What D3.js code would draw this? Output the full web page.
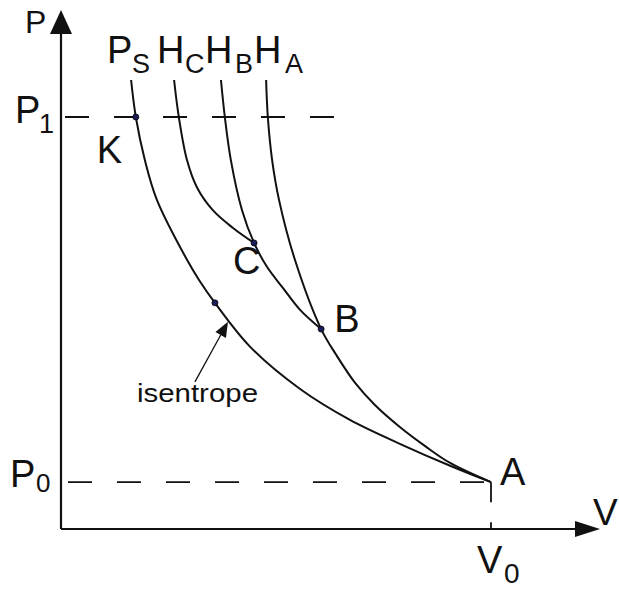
<!DOCTYPE html>
<html>
<head>
<meta charset="utf-8">
<script src="https://cdn.jsdelivr.net/npm/d3@7"></script>
<style>
  body { margin: 0; background: #fff; }
  text { font-family: "Liberation Sans", Arial, sans-serif; fill: #111; }
</style>
</head>
<body>
<script>
// P-V diagram: isentrope through K and A, Hugoniots H_A, H_B, H_C
// values are [V, P] with V0 = 1 and P0 = 1

const V0 = 1;
const P0 = 1;
const P1 = 8.8;

const isentrope = [[0.163, 9.59], [0.174, 8.80], [0.195, 7.88], [0.223, 7.03], [0.293, 5.75],
  [0.321, 5.32], [0.358, 4.83], [0.440, 3.89], [0.556, 2.99], [0.672, 2.33], [0.788, 1.82],
  [0.905, 1.35], [1.0, 1.0]];
const hugA = [[0.477, 9.59], [0.481, 8.80], [0.491, 7.88], [0.507, 7.03], [0.544, 5.75],
  [0.605, 4.27], [0.640, 3.72], [0.684, 3.12], [0.730, 2.65], [0.788, 2.18], [0.847, 1.77],
  [0.905, 1.41], [1.0, 1.0]];
const hugB = [[0.372, 9.59], [0.381, 8.80], [0.395, 7.88], [0.421, 6.81], [0.449, 6.11],
  [0.479, 5.60], [0.516, 5.15], [0.556, 4.68], [0.605, 4.27]];
const hugC = [[0.263, 9.59], [0.274, 8.80], [0.293, 7.88], [0.316, 7.30], [0.353, 6.81],
  [0.400, 6.43], [0.449, 6.11]];

// named states on the curves
const states = [
  { name: "K", v: 0.174, p: 8.80, dot: true },
  { name: "C", v: 0.449, p: 6.11, dot: true },
  { name: "B", v: 0.605, p: 4.27, dot: true },
  { name: "A", v: 1.0, p: 1.0, dot: false }
];
const isenMark = [0.358, 4.83];

const curveNames = [["P", "S"], ["H", "C"], ["H", "B"], ["H", "A"]];
const curves = [isentrope, hugC, hugB, hugA];

const W = 619, H = 592;
const svg = d3.select("body").append("svg")
  .attr("width", W)
  .attr("height", H);

const x = d3.scaleLinear().domain([0, 1]).range([61, 491]);
const y = d3.scaleLinear().domain([0, P1]).range([529, 117]);

const ink = "#111";

// axes
svg.append("line")
  .attr("x1", x(0)).attr("y1", y(0))
  .attr("x2", x(0)).attr("y2", 30)
  .attr("stroke", ink).attr("stroke-width", 2.2);
svg.append("path")
  .attr("d", `M${x(0)},10 L${x(0) - 11},34 L${x(0) + 11},34 Z`)
  .attr("fill", ink);
svg.append("line")
  .attr("x1", x(0)).attr("y1", y(0))
  .attr("x2", 578).attr("y2", y(0))
  .attr("stroke", ink).attr("stroke-width", 2.2);
svg.append("path")
  .attr("d", `M600,${y(0)} L575,${y(0) - 8} L575,${y(0) + 8} Z`)
  .attr("fill", ink);

// dashed guides
svg.append("line")
  .attr("x1", x(0) + 4).attr("y1", y(P1))
  .attr("x2", 335).attr("y2", y(P1))
  .attr("stroke", ink).attr("stroke-width", 1.8)
  .attr("stroke-dasharray", "24,25");
svg.append("line")
  .attr("x1", x(0) + 7).attr("y1", y(P0))
  .attr("x2", x(V0)).attr("y2", y(P0))
  .attr("stroke", ink).attr("stroke-width", 1.8)
  .attr("stroke-dasharray", "24,25");
svg.append("line")
  .attr("x1", x(V0)).attr("y1", y(P0))
  .attr("x2", x(V0)).attr("y2", y(0))
  .attr("stroke", ink).attr("stroke-width", 1.8)
  .attr("stroke-dasharray", "20,20");

// curves
const line = d3.line()
  .x(d => x(d[0]))
  .y(d => y(d[1]))
  .curve(d3.curveCatmullRom.alpha(0.5));

svg.selectAll("path.curve")
  .data(curves)
  .join("path")
  .attr("class", "curve")
  .attr("d", line)
  .attr("fill", "none")
  .attr("stroke", ink)
  .attr("stroke-width", 2);

// dots
const dots = states.filter(d => d.dot).map(d => [d.v, d.p]).concat([isenMark]);
svg.selectAll("circle")
  .data(dots)
  .join("circle")
  .attr("cx", d => x(d[0]))
  .attr("cy", d => y(d[1]))
  .attr("r", 3)
  .attr("fill", "#1c1c5a")
  .attr("stroke", "#000")
  .attr("stroke-width", 0.8);

// label with subscript
function label(tx, ty, main, sub, size, subSize, sx, sy) {
  svg.append("text")
    .attr("x", tx).attr("y", ty)
    .attr("font-size", size)
    .text(main);
  if (sub) {
    svg.append("text")
      .attr("x", sx).attr("y", sy)
      .attr("font-size", subSize)
      .text(sub);
  }
}

const big = 38, small = 27;

// curve names along the top
const nameX = [107, 157, 205, 254];
const subX = [132, 185, 235, 285];
curveNames.forEach((n, i) => label(nameX[i], 63, n[0], n[1], big, small, subX[i], 73));

// axis names
label(25, 33, "P", null, 32);
label(593, 525, "V", null, 37);
label(15, y(P1) + 6, "P", "1", big, small, 39, y(P1) + 16);
label(10, y(P0) + 5, "P", "0", big, 26, 36, y(P0) + 10);
label(x(V0) - 14, 573, "V", "0", big, 28, x(V0) + 13, 583);

// state letters
const offs = { K: [-39, 46], C: [-21, 31], B: [13, 3], A: [9, 3] };
states.forEach(s => {
  svg.append("text")
    .attr("x", x(s.v) + offs[s.name][0])
    .attr("y", y(s.p) + offs[s.name][1])
    .attr("font-size", big)
    .text(s.name);
});

// isentrope pointer
const tip = [x(isenMark[0]) + 13, y(isenMark[1]) + 19];
const tail = [tip[0] - 33, tip[1] + 60];
const ang = Math.atan2(tip[1] - tail[1], tip[0] - tail[0]);
const hl = 15, hw = 6;
const bx = tip[0] - hl * Math.cos(ang), by = tip[1] - hl * Math.sin(ang);
svg.append("line")
  .attr("x1", tail[0]).attr("y1", tail[1])
  .attr("x2", bx).attr("y2", by)
  .attr("stroke", ink).attr("stroke-width", 1.3);
svg.append("path")
  .attr("d", `M${tip[0]},${tip[1]} L${bx + hw * Math.sin(ang)},${by - hw * Math.cos(ang)} L${bx - hw * Math.sin(ang)},${by + hw * Math.cos(ang)} Z`)
  .attr("fill", ink);
svg.append("text")
  .attr("x", 137).attr("y", 402)
  .attr("font-size", 26)
  .attr("textLength", 121)
  .attr("lengthAdjust", "spacingAndGlyphs")
  .text("isentrope");
</script>
</body>
</html>
